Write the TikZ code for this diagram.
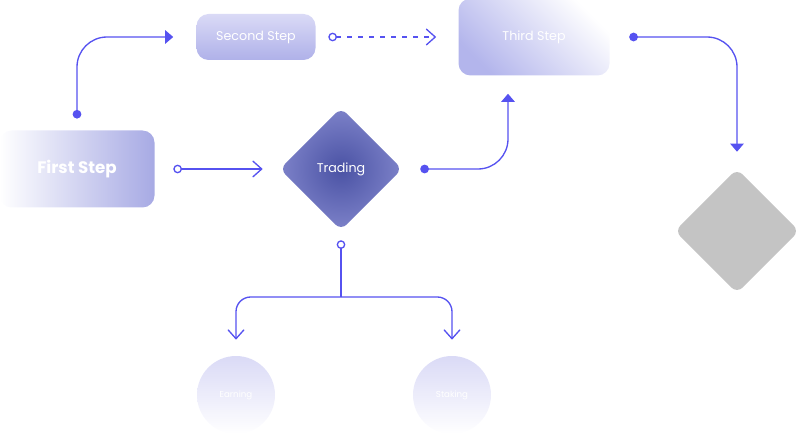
\documentclass[tikz,border=0pt]{standalone}
\usepackage{fontspec}
\setmainfont{Poppins}
\usepackage{tikz}
\usetikzlibrary{positioning,shapes.geometric,arrows.meta}

\definecolor{flow}{HTML}{5652F0}
\definecolor{lav}{HTML}{A7AAE4}
\definecolor{lavtop}{HTML}{DADAF6}
\definecolor{lavbot}{HTML}{AFB1E9}
\definecolor{lavsoft}{HTML}{B3B5EC}
\definecolor{tradein}{HTML}{4A52A4}
\definecolor{tradeout}{HTML}{7D82C9}
\definecolor{idle}{HTML}{C4C4C4}

\tikzset{
  fdot/.tip={Circle[length=6.5pt]},
  odot/.tip={Circle[open,length=6.5pt]},
  ftri/.tip={Triangle[length=6pt,width=10pt]},
  obarb/.tip={Straight Barb[length=6.75pt,width=12pt]}
}

\begin{document}
\begin{tikzpicture}
          [stepbox/.style={rectangle,rounded corners=9pt,text=white,inner sep=0pt},
           choice/.style={diamond,aspect=1,rounded corners=6pt,inner sep=0pt},
           outcome/.style={circle,inner sep=0pt,minimum size=58.5pt,text=white,
             font=\fontsize{6.5}{7}\selectfont,top color=lavtop,bottom color=white},
           link/.style={draw=flow,line width=1pt,rounded corners=22.5pt},
           on grid
          ]
          \useasboundingbox (-57.75pt,-199.5pt) rectangle (541.5pt,126.75pt);
          \node[stepbox,minimum width=116.25pt,minimum height=57.75pt,
                left color=white,right color=lav,
                font=\bfseries\fontsize{12.5}{14}\selectfont] (first) at (0,0) {First Step};
          \node[choice,minimum size=92pt,inner color=tradein,outer color=tradeout,
                text=white,font=\fontsize{9.5}{11}\selectfont,right=198pt of first] (trading) {Trading};
          \node[stepbox,minimum width=89.25pt,minimum height=34.5pt,
                top color=lavtop,bottom color=lavbot,font=\fontsize{9.5}{11}\selectfont,
                above right=99pt and 134.25pt of first] (second) {Second Step};
          \node[stepbox,minimum width=113.25pt,minimum height=57.75pt,
                top color=white,bottom color=lavsoft,shading angle=-45,
                font=\fontsize{9.5}{11}\selectfont,
                above right=99pt and 144.75pt of trading] (third) {Third Step};
          \node[choice,minimum size=93.5pt,fill=idle,below right=145.5pt and 152.25pt of third] (grey) {};
          \node[outcome,below left=169.5pt and 78.75pt of trading] (earning) {Earning};
          \node[outcome,right=162pt of earning] (staking) {Staking};
          \coordinate[below=96pt of trading] (split);

          \draw[link,fdot-ftri,shorten <=8.75pt,shorten >=17.25pt]
            (first.north) |- (second);
          \draw[link,odot-obarb,dash pattern=on 3.75pt off 4.5pt,shorten <=9.4pt,shorten >=16.5pt]
            (second) -- (third);
          \draw[link,odot-obarb,shorten <=13.9pt,shorten >=12.5pt]
            (first) -- (trading);
          \draw[link,fdot-ftri,shorten <=13.25pt,shorten >=13.5pt]
            (trading) -| ([xshift=-19.5pt]third.south);
          \draw[link,fdot-ftri,shorten <=14.6pt,shorten >=12.5pt]
            (third) -| (grey);
          \draw[link,odot-,shorten <=7.25pt]
            (trading) -- (split);
          \draw[link,-obarb,rounded corners=11pt,shorten >=12pt]
            (split) -| (earning);
          \draw[link,-obarb,rounded corners=11pt,shorten >=12pt]
            (split) -| (staking);
        \end{tikzpicture}
\end{document}
